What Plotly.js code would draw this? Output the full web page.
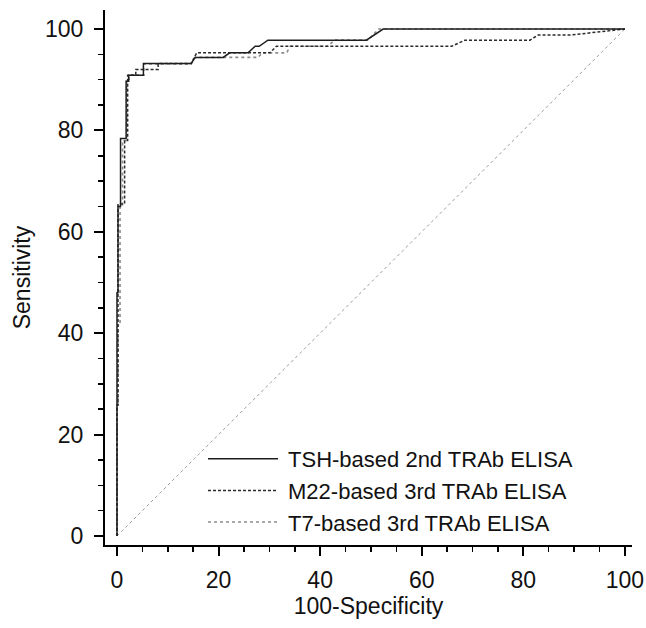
<!DOCTYPE html>
<html>
<head>
<meta charset="utf-8">
<script src="https://cdn.plot.ly/plotly-3.0.1.min.js"></script>
<style>html,body{margin:0;padding:0;background:#fff;}</style>
</head>
<body>
<div id="chart" style="width:646px;height:628px;"></div>
<script>
// TSH-based 2nd TRAb ELISA (solid)
const tshX = [0, 0, 0.2, 0.2, 0.7, 0.7, 1.8, 1.8, 2.3, 2.3, 5.2, 5.2, 14.6, 15.4, 20.9, 22.2, 25.8, 27.2, 28.0, 29.7, 49.1, 52.4, 100];
const tshY = [0, 48, 48, 65, 65, 78.4, 78.4, 89.7, 89.7, 90.9, 90.9, 93.2, 93.2, 94.4, 94.4, 95.3, 95.3, 96.6, 96.6, 97.8, 97.8, 100, 100];
// M22-based 3rd TRAb ELISA (dashed)
const m22X = [0, 0, 0.2, 0.2, 1.5, 1.5, 2.1, 2.1, 3.7, 3.7, 8.1, 8.1, 14.6, 15.7, 30.1, 31.4, 65.9, 68.5, 81.3, 82.9, 89.2, 100];
const m22Y = [0, 25.8, 25.8, 65.5, 65.5, 78, 78, 90.9, 90.9, 92.0, 92.0, 93.2, 93.2, 95.3, 95.3, 96.6, 96.6, 97.8, 97.8, 98.8, 98.8, 100];
// T7-based 3rd TRAb ELISA (dotted)
const t7X = [0, 0, 0.2, 0.2, 0.6, 0.6, 1.1, 1.1, 1.9, 1.9, 2.4, 2.4, 5.3, 5.3, 14.6, 15.4, 27.8, 28.6, 33.4, 34.1, 41.5, 42.8, 49.4, 51.5, 100];
const t7Y = [0, 26, 26, 41.6, 41.6, 65, 65, 78, 78, 89.7, 89.7, 90.9, 90.9, 93.1, 93.1, 94.4, 94.4, 95.3, 95.3, 96.6, 96.6, 97.8, 97.8, 100, 100];
// reference diagonal
const diagX = [0, 100];
const diagY = [0, 100];

const seriesNames = ["TSH-based 2nd TRAb ELISA", "M22-based 3rd TRAb ELISA", "T7-based 3rd TRAb ELISA"];
const xTicks = [0, 20, 40, 60, 80, 100];
const yTicks = [0, 20, 40, 60, 80, 100];

const FONT = "Liberation Sans, Arial, sans-serif";
const FS = 23;

const traces = [
  {x: diagX, y: diagY, mode: "lines", line: {color: "#9a9a9a", width: 1, dash: "dot"}, showlegend: false, hoverinfo: "skip"},
  {x: t7X, y: t7Y, name: seriesNames[2], mode: "lines", line: {color: "#8c8c8c", width: 1.6, dash: "dot"}},
  {x: m22X, y: m22Y, name: seriesNames[1], mode: "lines", line: {color: "#2a2a2a", width: 1.5, dash: "3px,2px"}},
  {x: tshX, y: tshY, name: seriesNames[0], mode: "lines", line: {color: "#1e1e1e", width: 1.5}}
];

const axisCommon = {
  showgrid: false, zeroline: false, showline: true, linecolor: "#000", linewidth: 2,
  ticks: "outside", ticklen: 9, tickwidth: 2, tickcolor: "#000",
  tickfont: {family: FONT, size: FS, color: "#111"},
  minor: {dtick: 5, ticks: "outside", ticklen: 5, tickwidth: 1.5, tickcolor: "#000"}
};

const layout = {
  width: 646, height: 628,
  margin: {l: 105, r: 14, t: 10, b: 83},
  paper_bgcolor: "#fff", plot_bgcolor: "#fff",
  font: {family: FONT, color: "#111"},
  xaxis: Object.assign({}, axisCommon, {
    range: [-2.36, 101.4], tickvals: xTicks, ticktext: xTicks.map(String),
    ticklabelstandoff: 4,
    title: {text: "100-Specificity", font: {family: FONT, size: FS, color: "#111"}, standoff: 6}
  }),
  yaxis: Object.assign({}, axisCommon, {
    range: [-1.78, 103.75], tickvals: yTicks, ticktext: yTicks.map(String),
    ticklabelstandoff: 6,
    title: {text: "Sensitivity", font: {family: FONT, size: FS, color: "#111"}, standoff: 8}
  }),
  legend: {
    x: 0.186, y: 0.2, xanchor: "left", yanchor: "top",
    traceorder: "reversed",
    font: {family: FONT, size: 22, color: "#111"},
    bgcolor: "rgba(0,0,0,0)", itemwidth: 75, tracegroupgap: 0
  },
  showlegend: true
};

Plotly.newPlot("chart", traces, layout, {displayModeBar: false, staticPlot: true}).then(function (gd) {
  // lengthen the legend sample lines to match the reference's long keys
  gd.querySelectorAll(".legend .legendlines path").forEach(function (p) {
    p.setAttribute("d", "M5,0h70");
  });
});
</script>
</body>
</html>
